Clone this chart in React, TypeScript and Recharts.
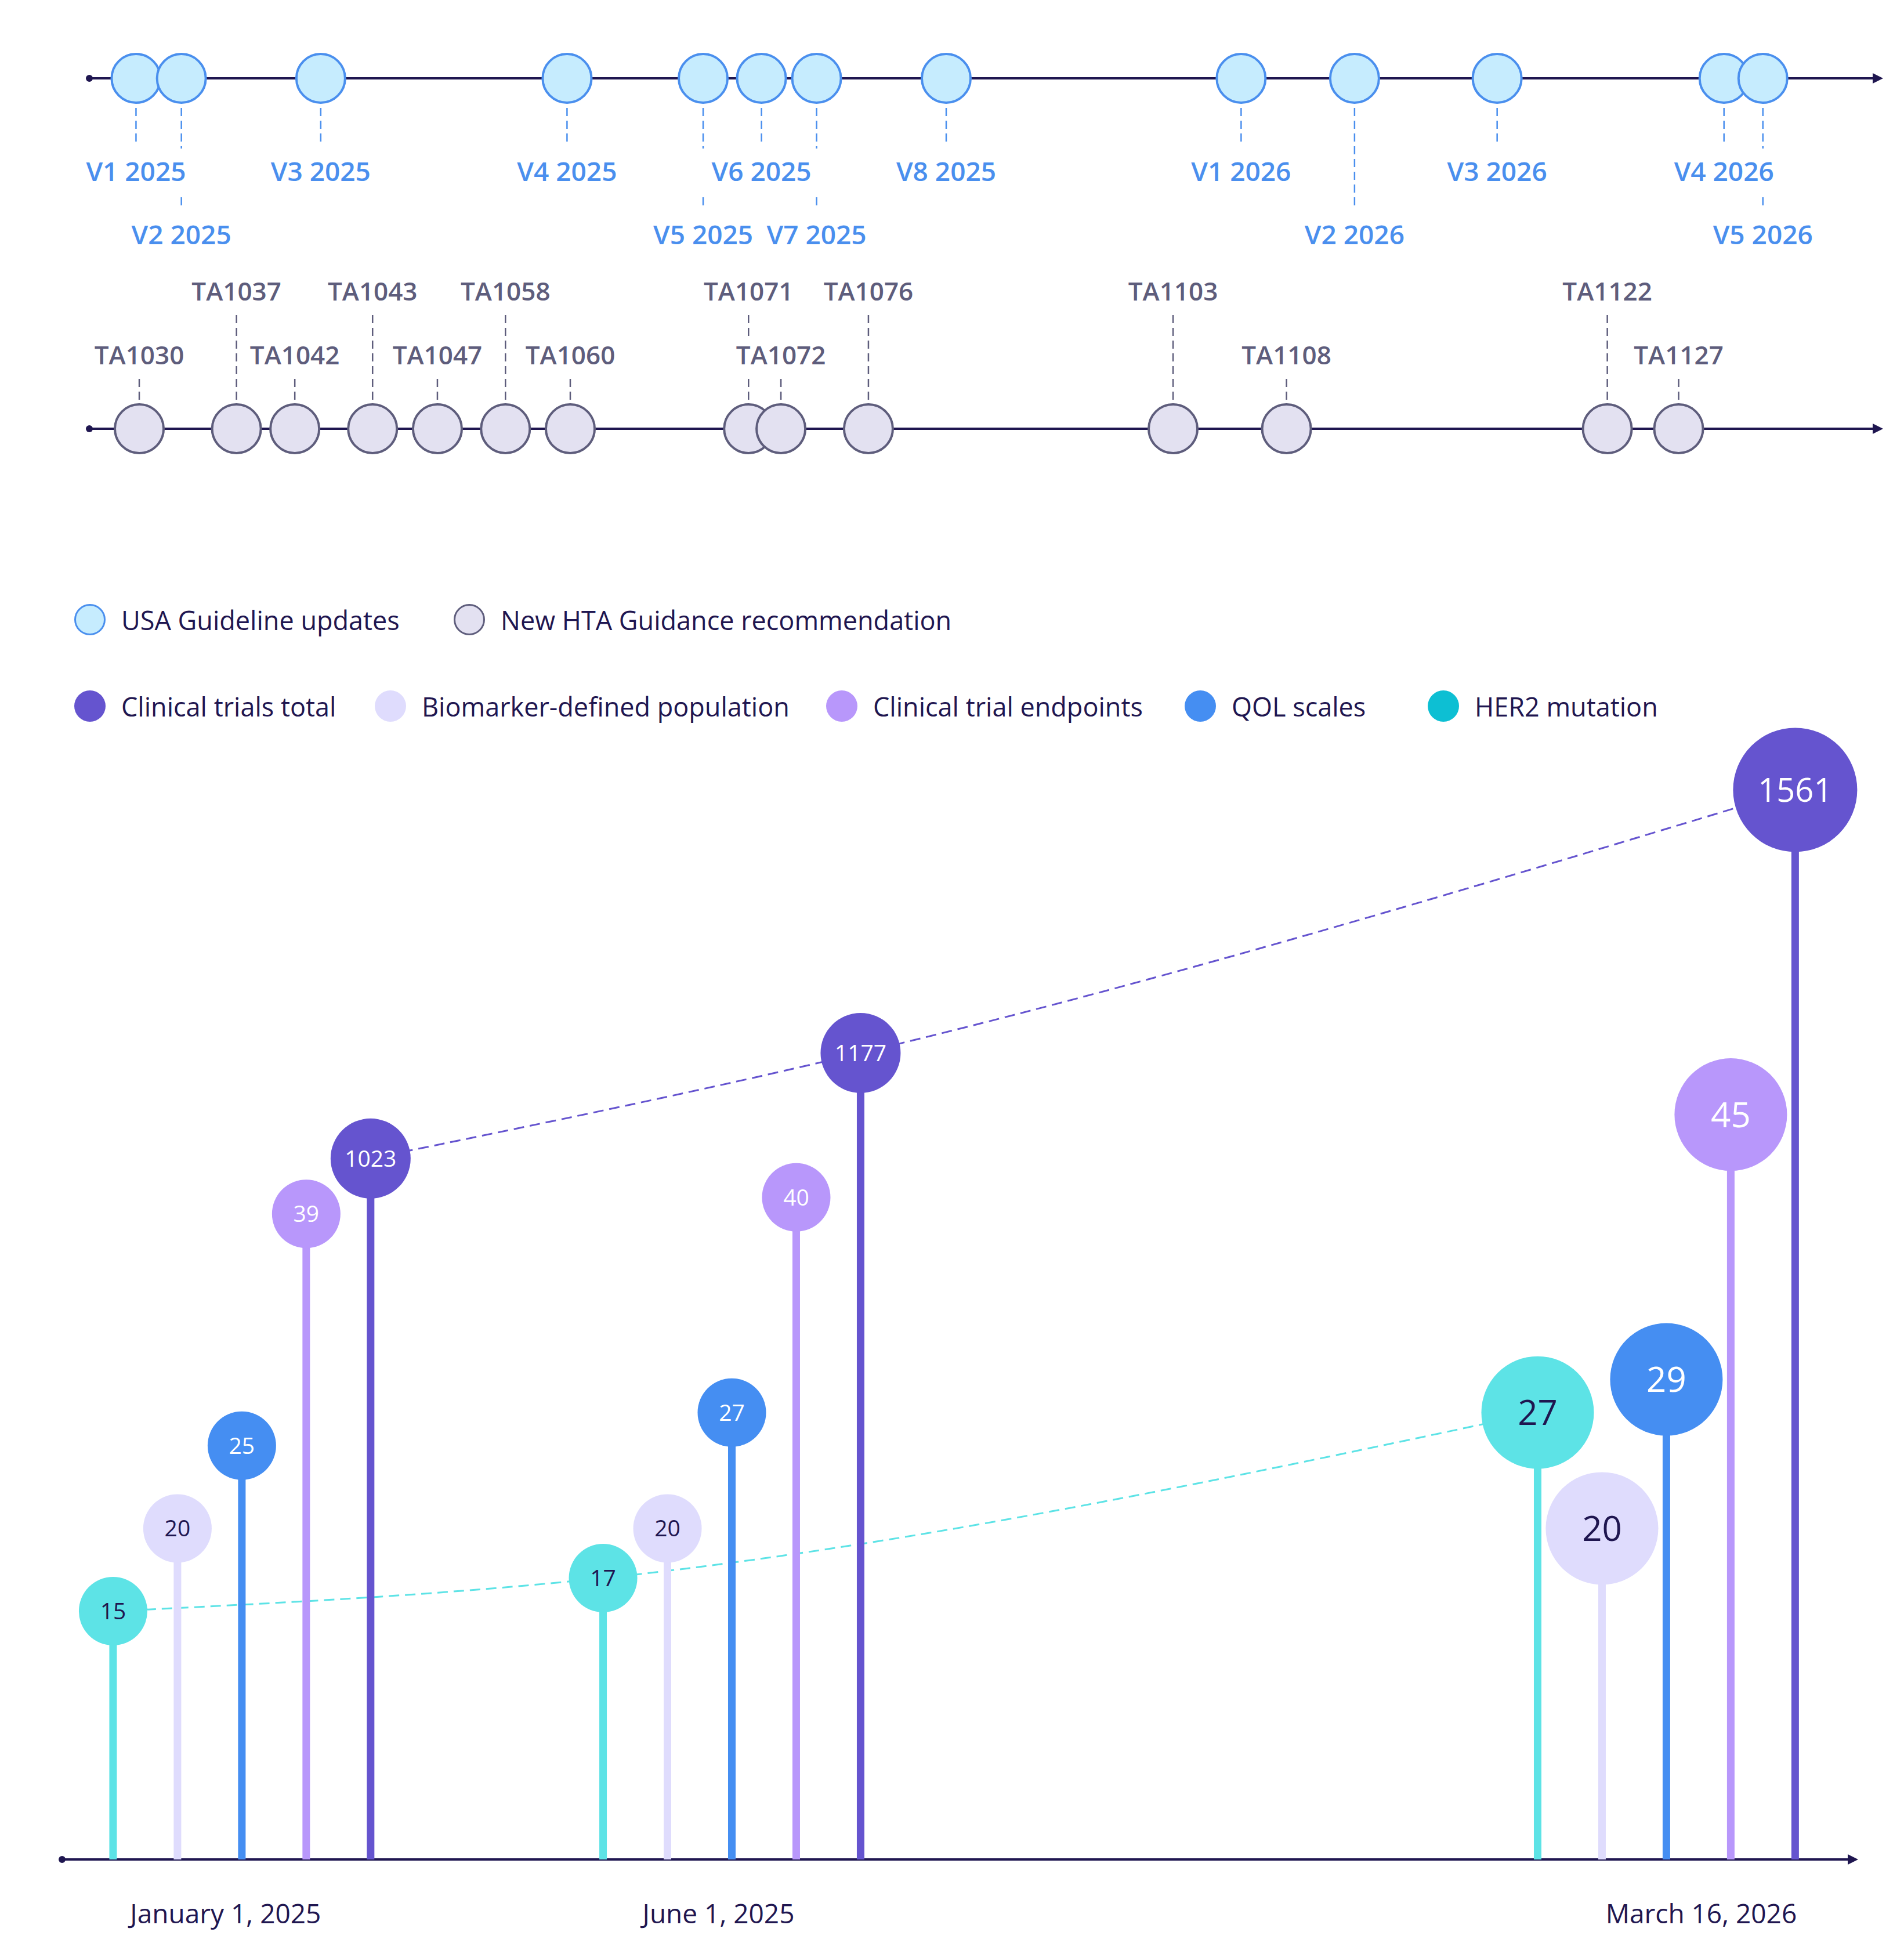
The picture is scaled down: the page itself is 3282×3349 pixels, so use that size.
import React from 'react';
import { ScatterChart, ComposedChart, Scatter, Line, XAxis, YAxis, ReferenceLine } from 'recharts';

const FONT = "'Segoe UI', 'Open Sans', sans-serif";
const INK = '#1F1650';

// snapshot groups of the lollipop chart
const snapshotDates = ['2025-01-01', '2025-06-01', '2026-03-16'];
const snapshotLabels = ['January 1, 2025', 'June 1, 2025', 'March 16, 2026'];

const her2Mutation = [15, 17, 27];
const biomarkerPopulation = [20, 20, 20];
const qolScales = [25, 27, 29];
const trialEndpoints = [39, 40, 45];
const clinicalTrialsTotal = [1023, 1177, 1561];

// USA guideline versions
const guidelineNames = ['V1 2025', 'V2 2025', 'V3 2025', 'V4 2025', 'V5 2025', 'V6 2025', 'V7 2025', 'V8 2025',
    'V1 2026', 'V2 2026', 'V3 2026', 'V4 2026', 'V5 2026'];
const guidelineDates = ['2024-11-21', '2024-12-05', '2025-01-17', '2025-04-03', '2025-05-15', '2025-06-02', '2025-06-19',
    '2025-07-29', '2025-10-28', '2025-12-02', '2026-01-15', '2026-03-26', '2026-04-07'];

// HTA guidance
const htaNames = ['TA1030', 'TA1037', 'TA1042', 'TA1043', 'TA1047', 'TA1058', 'TA1060', 'TA1071', 'TA1072', 'TA1076',
    'TA1103', 'TA1108', 'TA1122', 'TA1127'];
const htaDates = ['2024-11-22', '2024-12-22', '2025-01-09', '2025-02-02', '2025-02-22', '2025-03-15', '2025-04-04',
    '2025-05-29', '2025-06-08', '2025-07-05', '2025-10-07', '2025-11-11', '2026-02-18', '2026-03-12'];

// label lanes and tick nudges (layout only)
const GUIDE_LANES = [0, 1, 0, 0, 1, 0, 1, 0, 0, 1, 0, 0, 1];
const HTA_LANES = [0, 1, 0, 1, 0, 1, 0, 1, 0, 1, 1, 0, 1, 0];
const TICK_DX = [-28, -23, 60];

const ORIGIN = Date.UTC(2025, 0, 1);
const toDay = (iso: string) => (Date.parse(iso) - ORIGIN) / 86400000;
const DOMAIN: [number, number] = [-55.4, 498.1];
const DODGE_DAYS = 19.84;

const SERIES = [
    { name: 'HER2 mutation', values: her2Mutation, color: '#5DE3E6', legend: '#0DBFD3', text: INK, axis: 'small' },
    { name: 'Biomarker-defined population', values: biomarkerPopulation, color: '#DFDCFD', legend: '#DFDCFD', text: INK, axis: 'small' },
    { name: 'QOL scales', values: qolScales, color: '#458EF2', legend: '#458EF2', text: '#fff', axis: 'small' },
    { name: 'Clinical trial endpoints', values: trialEndpoints, color: '#B897FB', legend: '#B897FB', text: '#fff', axis: 'small' },
    { name: 'Clinical trials total', values: clinicalTrialsTotal, color: '#6554CF', legend: '#6554CF', text: '#fff', axis: 'total' },
];
const LEGEND_ORDER = [4, 1, 3, 2, 0];
const LEGEND_LEFT = [128, 646, 1424, 2042, 2461];

const snapDays = snapshotDates.map(toDay);
const seriesData = SERIES.map((s, i) =>
    s.values.map((value, k) => ({ x: snapDays[k] + (i - 2) * DODGE_DAYS, value, snap: k })));

const GUIDE = { color: '#4A8FEE', fill: '#C6ECFE', fontSize: 46, lanes: [161, 270], below: true, half: 40 };
const HTA = { color: '#5E5D7C', fill: '#E3E1F1', fontSize: 44, lanes: [-126, -236], below: false, half: 34 };
const R = 42;

function AxisArrow(props: any) {
    const { x1, y1, x2, y2 } = props;
    return (
        <g>
            <line x1={x1} y1={y1} x2={x2 - 8} y2={y2} stroke={INK} strokeWidth={4} />
            <circle cx={x1} cy={y1} r={6} fill={INK} />
            <path d={`M${x2},${y2} L${x2 - 18},${y2 - 9} L${x2 - 18},${y2 + 9} Z`} fill={INK} />
        </g>
    );
}

function Timeline({ names, dates, lanes, st, top, height, axisY }: any) {
    const pts = names.map((name: string, i: number) => ({ x: toDay(dates[i]), y: 0, name, lane: lanes[i] }));
    const textY = (p: any) => p.cy + st.lanes[p.payload.lane];
    const stem = (p: any) => {
        const ty = textY(p);
        const a = st.below ? p.cy + R + 9 : ty + 40;
        const b = st.below ? ty - 44 : p.cy - R;
        return <line x1={p.cx} x2={p.cx} y1={a} y2={b} stroke={st.color} strokeWidth={2.5} strokeDasharray="14 8" />;
    };
    const label = (p: any) => {
        const ty = textY(p);
        const w = p.payload.name.length * st.fontSize * 0.56 + 28;
        return (
            <g>
                <rect x={p.cx - w / 2} y={ty - st.half} width={w} height={st.half * 2} fill="#fff" />
                <text x={p.cx} y={ty} dy="0.35em" textAnchor="middle" fontSize={st.fontSize} fontWeight={600}
                    fontFamily={FONT} fill={st.color}>{p.payload.name}</text>
            </g>
        );
    };
    const dot = (p: any) => <circle cx={p.cx} cy={p.cy} r={R} fill={st.fill} stroke={st.color} strokeWidth={4} />;
    return (
        <div style={{ position: 'absolute', top, left: 0 }}>
            <ScatterChart width={3282} height={height} margin={{ top: 0, right: 36, bottom: height - axisY, left: 154 }}>
                <XAxis type="number" dataKey="x" domain={DOMAIN} hide />
                <YAxis type="number" dataKey="y" domain={[0, 1]} hide />
                <ReferenceLine y={0} shape={AxisArrow} />
                <Scatter data={pts} shape={stem} isAnimationActive={false} />
                <Scatter data={pts} shape={label} isAnimationActive={false} />
                <Scatter data={pts} shape={dot} isAnimationActive={false} />
            </ScatterChart>
        </div>
    );
}

const MAIN_H = 2129;
const MAIN_MARGIN = { top: 80, right: 79, bottom: 0, left: 107 };
const X_AXIS_H = 144;
const BASE_Y = MAIN_H - MAIN_MARGIN.bottom - X_AXIS_H;

function lollipop(s: any, isTotal: boolean) {
    return (p: any) => {
        const big = p.payload.snap === snapshotDates.length - 1;
        const r = (big ? 97 : 59) + (isTotal ? 10 : 0);
        const fs = big ? (isTotal ? 56 : 60) : 39;
        return (
            <g>
                <rect x={p.cx - 6.5} y={p.cy} width={13} height={BASE_Y - p.cy} fill={s.color} />
                <circle cx={p.cx} cy={p.cy} r={r} fill={s.color} />
                <text x={p.cx} y={p.cy} dy="0.36em" textAnchor="middle" fontSize={fs} fontFamily={FONT}
                    fill={s.text}>{p.payload.value}</text>
            </g>
        );
    };
}

function DateTick(props: any) {
    const { x, y, payload, index } = props;
    return (
        <text x={x + (TICK_DX[index] || 0)} y={y} dy="0.71em" textAnchor="middle" fontSize={46}
            fontFamily={FONT} fill={INK}>{snapshotLabels[snapDays.indexOf(payload.value)]}</text>
    );
}

function LegendItem({ left, y, label, fill, stroke }: any) {
    return (
        <div style={{ position: 'absolute', left, top: y - 27, height: 54, display: 'flex', alignItems: 'center' }}>
            <div style={{
                width: 54, height: 54, borderRadius: '50%', background: fill, boxSizing: 'border-box',
                border: stroke ? `3px solid ${stroke}` : 'none', marginRight: 27
            }} />
            <span style={{ fontSize: 45, color: INK, lineHeight: 1, whiteSpace: 'nowrap' }}>{label}</span>
        </div>
    );
}

export default function App() {
    return (
        <div style={{ position: 'absolute', left: 0, top: 0, width: 3282, height: 3349, background: '#fff', fontFamily: FONT }}>
            <Timeline names={guidelineNames} dates={guidelineDates} lanes={GUIDE_LANES} st={GUIDE} top={0} height={460} axisY={135} />
            <Timeline names={htaNames} dates={htaDates} lanes={HTA_LANES} st={HTA} top={450} height={350} axisY={289} />

            <LegendItem left={128} y={1068} label="USA Guideline updates" fill={GUIDE.fill} stroke={GUIDE.color} />
            <LegendItem left={782} y={1068} label="New HTA Guidance recommendation" fill={HTA.fill} stroke={HTA.color} />
            {LEGEND_ORDER.map((idx, j) => (
                <LegendItem key={idx} left={LEGEND_LEFT[j]} y={1217} label={SERIES[idx].name} fill={SERIES[idx].legend} />
            ))}

            <div style={{ position: 'absolute', top: 1220, left: 0 }}>
                <ComposedChart width={3282} height={MAIN_H} margin={MAIN_MARGIN}>
                    <XAxis type="number" dataKey="x" domain={DOMAIN} ticks={snapDays} interval={0}
                        axisLine={false} tickLine={false} tickSize={0} tickMargin={77} height={X_AXIS_H}
                        tick={<DateTick />} />
                    <YAxis yAxisId="small" type="number" dataKey="value" domain={[0, 66.77]} hide />
                    <YAxis yAxisId="total" type="number" dataKey="value" domain={[0, 1613]} hide />
                    <Line data={seriesData[0]} yAxisId="small" dataKey="value" type="monotone" stroke="#5DE3E6"
                        strokeWidth={3} strokeDasharray="18 10" dot={false} isAnimationActive={false} />
                    <Line data={seriesData[4]} yAxisId="total" dataKey="value" type="monotone" stroke="#6554CF"
                        strokeWidth={3} strokeDasharray="18 10" dot={false} isAnimationActive={false} />
                    {SERIES.map((s, i) => (
                        <Scatter key={s.name} name={s.name} data={seriesData[i]} yAxisId={s.axis} dataKey="value"
                            shape={lollipop(s, s.axis === 'total')} isAnimationActive={false} />
                    ))}
                    <ReferenceLine yAxisId="small" y={0} shape={AxisArrow} />
                </ComposedChart>
            </div>
        </div>
    );
}
